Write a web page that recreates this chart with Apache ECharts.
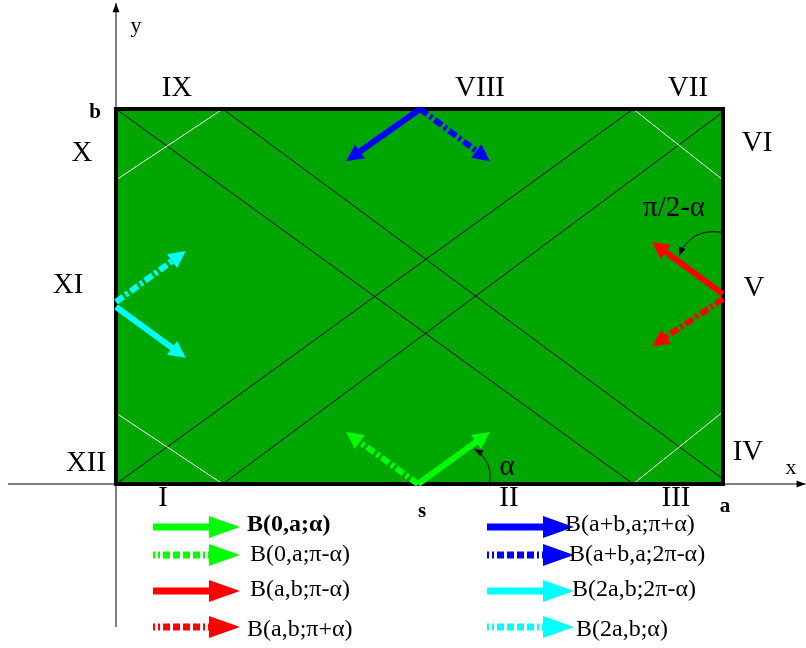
<!DOCTYPE html>
<html><head><meta charset="utf-8">
<script src="https://cdn.jsdelivr.net/npm/echarts@6/dist/echarts.min.js"></script>
<style>html,body{margin:0;padding:0;background:#fff}#c{width:806px;height:648px}</style>
</head><body><div id="c"></div>
<script>
// Geometry (a = 1, b = 0.618)
const A = 1, B = 0.618;
const blackLines = [[[0,0],[0.852,B]], [[0,B],[0.852,0]], [[0.176,0],[1,0.613]], [[0.176,B],[1,0.008]]];
const whiteLines = [[[0,0.501],[0.176,B]], [[0,0.117],[0.176,0]], [[0.852,B],[1,0.501]], [[0.852,0],[1,0.119]]];
// Trajectory direction arrows
const arrowColors = ['#00ff00','#00ff00','#0000ff','#0000ff','#ff0000','#ff0000','#00ffff','#00ffff'];
const arrowDashed = [false,true,false,true,false,true,false,true];
const arrowStart = [[0.4975,0],[0.4975,0],[0.501,B],[0.501,B],[1,0.313],[1,0.305],[0,0.292],[0,0.300]];
const arrowEnd = [[0.616,0.0857],[0.379,0.0857],[0.379,0.532],[0.616,0.532],[0.883,0.399],[0.883,0.227],[0.115,0.208],[0.115,0.384]];
// Angle arcs: start, control, end
const arcs = [[[0.616,0.0016],[0.621,0.0395],[0.590,0.0577]], [[0.9967,0.415],[0.9456,0.4217],[0.9275,0.3756]]];
// Labels
const regionLabels = ['IX','VIII','VII','VI','X','XI','V','XII','IV','I','II','III'];
const regionPos = [[0.1005,0.6524],[0.5997,0.6524],[0.9423,0.6524],[1.056,0.5618],[-0.056,0.5453],[-0.0791,0.3278],[1.0511,0.3229],[-0.0494,0.0346],[1.0412,0.0527],[0.0774,-0.0231],[0.6474,-0.0231],[0.9226,-0.0231]];
const otherLabels = ['y','x','α','π/2-α'];
const otherPos = [[0.0329,0.7545],[1.112,0.0264],[0.6442,0.028],[0.9193,0.4547]];
const boldLabels = ['b','a','s'];
const boldPos = [[-0.0346,0.6129],[1.0033,-0.0379],[0.5041,-0.0461]];
// Axes
const xAxisLine = [[-0.178,0],[1.136,0]];
const yAxisLine = [[0,-0.2356],[0,0.7924]];
// Legend
const legendLabels = ['B(0,a;α)','B(0,a;π-α)','B(a,b;π-α)','B(a,b;π+α)','B(a+b,a;π+α)','B(a+b,a;2π-α)','B(2a,b;2π-α)','B(2a,b;α)'];
const legendColors = ['#00ff00','#00ff00','#ff0000','#ff0000','#0000ff','#0000ff','#00ffff','#00ffff'];
const legendDashed = [false,true,false,true,false,true,false,true];
const legendRowY = [-0.0708,-0.1170,-0.1763,-0.2356];
const legendArrowX = [[0.0610,0.2043],[0.6112,0.7545]];
const legendTextX = [0.2158,0.2208,0.2208,0.2158,0.7397,0.7463,0.7512,0.7578];
const legendTextY = [-0.0675,-0.117,-0.1746,-0.2405];

const SERIF = '"Liberation Serif","Times New Roman",serif';

function arrow(api, s, e, color, dashed, w, hl, hw, dash) {
  const p0 = api.coord(s), p1 = api.coord(e);
  const dx = p1[0]-p0[0], dy = p1[1]-p0[1], L = Math.hypot(dx,dy);
  const ux = dx/L, uy = dy/L, nx = -uy, ny = ux;
  const bx = p1[0]-ux*hl, by = p1[1]-uy*hl;
  return {type:'group', children:[
    {type:'line', shape:{x1:p0[0],y1:p0[1],x2:bx+ux,y2:by+uy}, style:{stroke:color,lineWidth:w,lineDash:dashed?dash:null,lineCap:'butt'}},
    {type:'polygon', shape:{points:[[p1[0],p1[1]],[bx+nx*hw/2,by+ny*hw/2],[bx-nx*hw/2,by-ny*hw/2]]}, style:{fill:color}}
  ]};
}
function seg(api, s, e, color, w) {
  const p0 = api.coord(s), p1 = api.coord(e);
  return {type:'line', shape:{x1:p0[0],y1:p0[1],x2:p1[0],y2:p1[1]}, style:{stroke:color,lineWidth:w}};
}

const chart = echarts.init(document.getElementById('c'), null, {renderer:'canvas'});
chart.setOption({
  backgroundColor:'#fff',
  animation:false,
  grid:{left:116, top:109, width:607, height:375},
  xAxis:{type:'value', min:0, max:A, show:false},
  yAxis:{type:'value', min:0, max:B, show:false},
  series:[
    {type:'custom', clip:false, data:[[0]], z:1, renderItem:(p,api)=>{
      const c0 = api.coord([0,B]), c1 = api.coord([A,0]);
      const children = [{type:'rect', shape:{x:c0[0],y:c0[1],width:c1[0]-c0[0],height:c1[1]-c0[1]}, style:{fill:'#00a600'}}];
      blackLines.forEach(l=>children.push(seg(api,l[0],l[1],'#000',1)));
      whiteLines.forEach(l=>children.push(seg(api,l[0],l[1],'#fff',1)));
      children.push(seg(api,xAxisLine[0],xAxisLine[1],'#000',1));
      children.push(seg(api,yAxisLine[0],yAxisLine[1],'#000',1));
      const xe = api.coord(xAxisLine[1]), ye = api.coord(yAxisLine[1]);
      children.push({type:'polygon', shape:{points:[[xe[0],xe[1]],[xe[0]-9,xe[1]-3.5],[xe[0]-9,xe[1]+3.5]]}, style:{fill:'#000'}});
      children.push({type:'polygon', shape:{points:[[ye[0],ye[1]],[ye[0]-3.5,ye[1]+9],[ye[0]+3.5,ye[1]+9]]}, style:{fill:'#000'}});
      children.push({type:'rect', shape:{x:c0[0],y:c0[1],width:c1[0]-c0[0],height:c1[1]-c0[1]}, style:{fill:null,stroke:'#000',lineWidth:4}});
      return {type:'group', children};
    }},
    {type:'custom', clip:false, data:arrowStart.map((d,i)=>[i]), z:3, renderItem:(p,api)=>{
      const i = p.dataIndex;
      return arrow(api, arrowStart[i], arrowEnd[i], arrowColors[i], arrowDashed[i], 6, 17, 17, [9,3,3,3]);
    }},
    {type:'custom', clip:false, data:arcs.map((d,i)=>[i]), z:3, renderItem:(p,api)=>{
      const a = arcs[p.dataIndex];
      const s = api.coord(a[0]), c = api.coord(a[1]), e = api.coord(a[2]);
      const dx = e[0]-c[0], dy = e[1]-c[1], L = Math.hypot(dx,dy), ux=dx/L, uy=dy/L;
      const bx = e[0]-ux*9, by = e[1]-uy*9;
      return {type:'group', children:[
        {type:'bezierCurve', shape:{x1:s[0],y1:s[1],cpx1:c[0],cpy1:c[1],x2:e[0],y2:e[1]}, style:{stroke:'#000',lineWidth:1,fill:null}},
        {type:'polygon', shape:{points:[[e[0],e[1]],[bx-uy*3.5,by+ux*3.5],[bx+uy*3.5,by-ux*3.5]]}, style:{fill:'#000'}}
      ]};
    }},
    {type:'custom', clip:false, data:legendLabels.map((d,i)=>[i]), z:3, renderItem:(p,api)=>{
      const i = p.dataIndex, col = Math.floor(i/4), row = i%4;
      const ax = legendArrowX[col], y = legendRowY[row];
      const t = api.coord([legendTextX[i], legendTextY[row]]);
      return {type:'group', children:[
        arrow(api, [ax[0],y], [ax[1],y], legendColors[i], legendDashed[i], 7, 31, 22, [2,3,2,3,7,3,7,3,7,3,7,3]),
        {type:'text', style:{text:legendLabels[i], x:t[0], y:t[1], fill:'#000', font:(i===0?'bold ':'')+'24px '+SERIF, align:'left', verticalAlign:'middle'}}
      ]};
    }},
    {type:'custom', clip:false, data:regionLabels.map((d,i)=>[i]), z:4, renderItem:(p,api)=>{
      const i = p.dataIndex, t = api.coord(regionPos[i]);
      return {type:'text', style:{text:regionLabels[i], x:t[0], y:t[1], fill:'#000', font:'29px '+SERIF, align:'center', verticalAlign:'middle'}};
    }},
    {type:'custom', clip:false, data:otherLabels.map((d,i)=>[i]), z:4, renderItem:(p,api)=>{
      const i = p.dataIndex, t = api.coord(otherPos[i]);
      const size = i < 2 ? 22 : 29;
      return {type:'text', style:{text:otherLabels[i], x:t[0], y:t[1], fill:'#000', font:size+'px '+SERIF, align:'center', verticalAlign:'middle'}};
    }},
    {type:'custom', clip:false, data:boldLabels.map((d,i)=>[i]), z:4, renderItem:(p,api)=>{
      const i = p.dataIndex, t = api.coord(boldPos[i]);
      return {type:'text', style:{text:boldLabels[i], x:t[0], y:t[1], fill:'#000', font:'bold 21px '+SERIF, align:'center', verticalAlign:'middle'}};
    }}
  ]
});
</script></body></html>
